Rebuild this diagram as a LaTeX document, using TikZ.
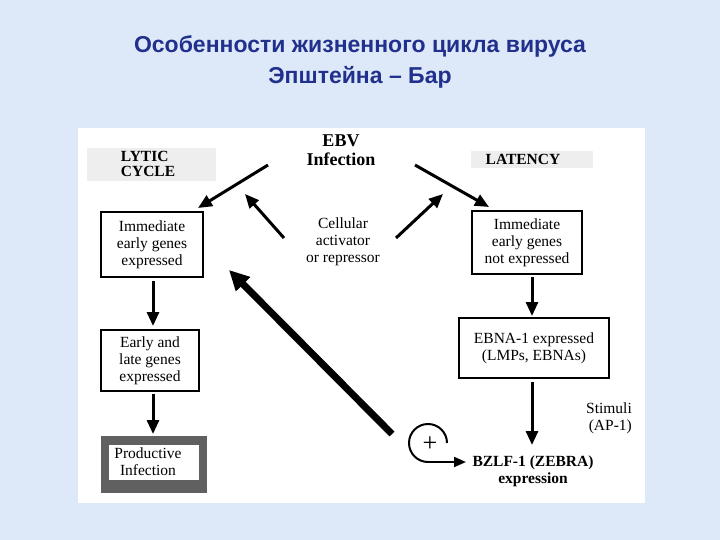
\documentclass[tikz,border=0pt]{standalone}
\usepackage{fontspec}
\setmainfont{Liberation Serif}
\newfontfamily\titlefont{Liberation Sans}
\usetikzlibrary{arrows.meta}
\definecolor{bgblue}{RGB}{221,232,248}
\definecolor{titleblue}{RGB}{32,48,140}
\definecolor{lgray}{RGB}{238,238,238}
\begin{document}
\begin{tikzpicture}[x=1pt,y=-1pt,
  txt/.style={font=\fontsize{15.5}{17}\selectfont,align=center,inner sep=0pt},
  boxx/.style={draw,line width=1.5pt,fill=white},
  arr/.style={line width=3pt,-{Triangle[length=14pt,width=12pt]}},
  thick arr/.style={line width=7pt,-{Triangle[length=20pt,width=19pt]}}]
\useasboundingbox (0,0) rectangle (720,540);
\fill[bgblue] (0,0) rectangle (720,540);
\fill[white] (78,128) rectangle (645,503);
\node[font=\titlefont\bfseries\fontsize{23}{31}\selectfont,text=titleblue,align=center] (title) at (360,62) {Особенности жизненного цикла вируса\\Эпштейна – Бар};
% labels
\fill[lgray] (87,148) rectangle (216,181);
\node[txt,font=\bfseries\fontsize{15.5}{15}\selectfont,align=left] (lytic) at (148,164) {LYTIC\\CYCLE};
\fill[lgray] (471,151) rectangle (593,168);
\node[txt,font=\bfseries\fontsize{15.5}{15}\selectfont] (lat) at (523,159) {LATENCY};
\node[txt,font=\bfseries\fontsize{18}{19}\selectfont] (ebv) at (341,150) {EBV\\Infection};
\node[txt] (cell) at (343,242) {Cellular\\activator\\or repressor};
% boxes
\draw[boxx] (101,212) rectangle (203,277);
\node[txt] (b1) at (152,244.5) {Immediate\\early genes\\expressed};
\draw[boxx] (101,330) rectangle (199,391);
\node[txt] (b2) at (150,360.5) {Early and\\late genes\\expressed};
\fill[gray!75!black] (101,436) rectangle (207,493);
\fill[white] (109,445) rectangle (199,480);
\node[txt] (b3) at (148,462) {Productive\\Infection};
\draw[boxx] (472,211) rectangle (582,274);
\node[txt] (r1) at (527,242.5) {Immediate\\early genes\\not expressed};
\draw[boxx] (459,318) rectangle (609,378);
\node[txt] (r2) at (534,348) {EBNA-1 expressed\\(LMPs, EBNAs)};
\node[txt,font=\bfseries\fontsize{15.5}{17}\selectfont] (bz) at (533,471) {BZLF-1 (ZEBRA)\\expression};
\node[txt,align=right] (stim) at (609,418) {Stimuli\\(AP-1)};
% arrows
\coordinate (e1) at (268,165); \coordinate (e2) at (198,208);
\draw[arr] (e1) -- (e2);
\coordinate (e3) at (415,165); \coordinate (e4) at (489,207);
\draw[arr] (e3) -- (e4);
\coordinate (c1) at (284,238); \coordinate (c2) at (245,194);
\draw[arr] (c1) -- (c2);
\coordinate (c3) at (396,238); \coordinate (c4) at (443,194);
\draw[arr] (c3) -- (c4);
\coordinate (t1) at (392,434); \coordinate (t2) at (229,270);
\draw[thick arr] (t1) -- (t2);
\coordinate (v1) at (153,281); \coordinate (v2) at (153,326);
\draw[arr] (v1) -- (v2);
\coordinate (v3) at (153,394); \coordinate (v4) at (153,434);
\draw[arr] (v3) -- (v4);
\coordinate (v5) at (532,277); \coordinate (v6) at (532,316);
\draw[arr] (v5) -- (v6);
\coordinate (v7) at (532,382); \coordinate (v8) at (532,445);
\draw[arr] (v7) -- (v8);
% plus loop
\coordinate (pc) at (427,443);
\node[font=\fontsize{26}{26}\selectfont,inner sep=0pt] (plus) at (430,444) {+};
\draw[line width=2pt] (447,443) arc[start angle=0,end angle=-270,radius=19];
\coordinate (pa) at (428,462); \coordinate (pb) at (466,462);
\draw[line width=2pt,-{Triangle[length=12pt,width=10pt]}] (pa) -- (pb);
\end{tikzpicture}
\end{document}
